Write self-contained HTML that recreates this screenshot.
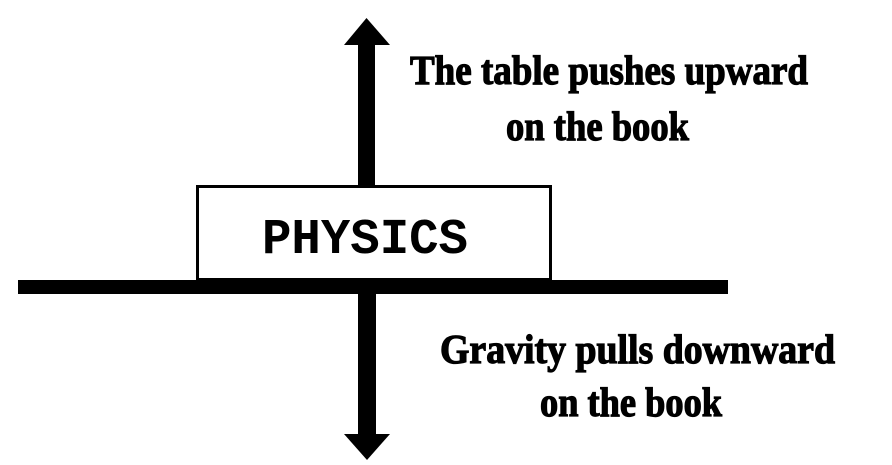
<!DOCTYPE html>
<html><head><meta charset="utf-8"><style>
html,body{margin:0;padding:0;background:#fff;}
svg{display:block;}
</style></head><body>
<svg width="892" height="465" viewBox="0 0 892 465" xmlns="http://www.w3.org/2000/svg">
<rect width="892" height="465" fill="#fff"/>
<!-- up arrow -->
<rect x="358" y="44" width="17" height="143" fill="#000"/>
<polygon points="366.5,18 344,45 390,45" fill="#000"/>
<!-- box -->
<rect x="197.5" y="186.5" width="353" height="93" fill="#fff" stroke="#000" stroke-width="3"/>
<text x="365" y="253" font-family="Liberation Mono, monospace" font-weight="bold" font-size="50" text-anchor="middle" textLength="206" lengthAdjust="spacingAndGlyphs" fill="#000">PHYSICS</text>
<!-- table line -->
<rect x="18" y="280" width="710" height="14" fill="#000"/>
<!-- down arrow -->
<rect x="358" y="292" width="18" height="144" fill="#000"/>
<polygon points="367,460 344,434 390,434" fill="#000"/>
<!-- labels -->
<g font-family="Liberation Serif, serif" font-weight="bold" font-size="41" fill="#000" stroke="#000" stroke-width="1.2">
<text x="410" y="84" textLength="398" lengthAdjust="spacingAndGlyphs">The table pushes upward</text>
<text x="506" y="140" textLength="183" lengthAdjust="spacingAndGlyphs">on the book</text>
<text x="440" y="363" textLength="395" lengthAdjust="spacingAndGlyphs">Gravity pulls downward</text>
<text x="540" y="416" textLength="182" lengthAdjust="spacingAndGlyphs">on the book</text>
</g>
</svg>
</body></html>
